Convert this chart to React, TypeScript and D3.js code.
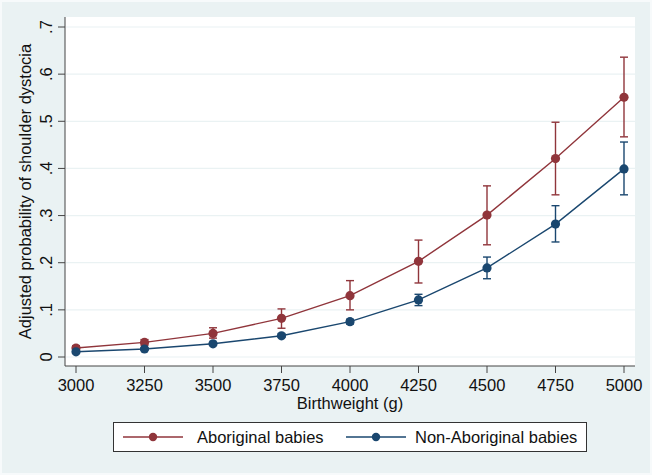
import { useEffect, useRef } from 'react'
import * as d3 from 'd3'

const weights = [3000, 3250, 3500, 3750, 4000, 4250, 4500, 4750, 5000]

const aboriginalProb = [0.019, 0.031, 0.050, 0.082, 0.130, 0.203, 0.301, 0.421, 0.551]
const aboriginalLo = [0.015, 0.025, 0.040, 0.061, 0.100, 0.157, 0.238, 0.344, 0.467]
const aboriginalHi = [0.024, 0.037, 0.062, 0.102, 0.162, 0.248, 0.363, 0.498, 0.636]

const nonAboriginalProb = [0.011, 0.017, 0.028, 0.045, 0.075, 0.121, 0.189, 0.282, 0.399]
const nonAboriginalLo = [0.010, 0.015, 0.026, 0.042, 0.070, 0.109, 0.166, 0.244, 0.344]
const nonAboriginalHi = [0.012, 0.019, 0.031, 0.049, 0.080, 0.133, 0.212, 0.321, 0.456]

const yTicks = [0, 0.1, 0.2, 0.3, 0.4, 0.5, 0.6, 0.7]
const yTickLabels = ['0', '.1', '.2', '.3', '.4', '.5', '.6', '.7']

const seriesNames = ['Aboriginal babies', 'Non-Aboriginal babies']
const seriesColors = ['#90353b', '#1a476f']

export default function App() {
  const svgRef = useRef<SVGSVGElement>(null)

  useEffect(() => {
    if (!svgRef.current) return
    document.body.style.margin = '0'

    const width = 652
    const height = 475
    const font = "'Liberation Sans', Arial, sans-serif"
    const fontSize = 16.5

    const svg = d3.select(svgRef.current)
    svg.selectAll('*').remove()
    svg.attr('width', width).attr('height', height)

    // graph region background with a thin light border
    svg.append('rect').attr('width', width).attr('height', height).attr('fill', '#f7fafb')
    svg.append('rect')
      .attr('x', 2).attr('y', 2)
      .attr('width', width - 4).attr('height', height - 4)
      .attr('fill', '#eaf2f3')

    const plotLeft = 65
    const plotRight = 635
    const plotTop = 17
    const plotBottom = 366

    svg.append('rect')
      .attr('x', plotLeft).attr('y', plotTop)
      .attr('width', plotRight - plotLeft).attr('height', plotBottom - plotTop)
      .attr('fill', '#ffffff')

    const x = d3.scaleLinear().domain([3000, 5000]).range([76, 624])
    const y = d3.scaleLinear().domain([0, 0.7]).range([357, 27])

    // horizontal gridlines
    svg.append('g')
      .selectAll('line')
      .data(yTicks)
      .enter()
      .append('line')
      .attr('x1', plotLeft + 1).attr('x2', plotRight)
      .attr('y1', d => y(d)).attr('y2', d => y(d))
      .attr('stroke', '#eaf2f3')
      .attr('stroke-width', 1.2)

    // y axis
    const yAxis = svg.append('g')
    yAxis.append('line')
      .attr('x1', plotLeft).attr('x2', plotLeft)
      .attr('y1', plotTop).attr('y2', plotBottom)
      .attr('stroke', '#444').attr('stroke-width', 1)
    yAxis.selectAll('line.tick')
      .data(yTicks)
      .enter()
      .append('line')
      .attr('class', 'tick')
      .attr('x1', plotLeft - 7).attr('x2', plotLeft)
      .attr('y1', d => y(d)).attr('y2', d => y(d))
      .attr('stroke', '#444').attr('stroke-width', 1)
    yAxis.selectAll('text')
      .data(yTicks)
      .enter()
      .append('text')
      .attr('transform', d => `translate(52,${y(d)}) rotate(-90)`)
      .attr('text-anchor', 'middle')
      .attr('font-family', font)
      .attr('font-size', fontSize)
      .attr('fill', '#111')
      .text((_, i) => yTickLabels[i])

    svg.append('text')
      .attr('transform', `translate(31,${(plotTop + plotBottom) / 2}) rotate(-90)`)
      .attr('text-anchor', 'middle')
      .attr('font-family', font)
      .attr('font-size', fontSize)
      .attr('fill', '#111')
      .text('Adjusted probability of shoulder dystocia')

    // x axis
    const xAxis = svg.append('g')
    xAxis.append('line')
      .attr('x1', plotLeft).attr('x2', plotRight)
      .attr('y1', plotBottom).attr('y2', plotBottom)
      .attr('stroke', '#444').attr('stroke-width', 1)
    xAxis.selectAll('line.tick')
      .data(weights)
      .enter()
      .append('line')
      .attr('class', 'tick')
      .attr('x1', d => x(d)).attr('x2', d => x(d))
      .attr('y1', plotBottom).attr('y2', plotBottom + 7)
      .attr('stroke', '#444').attr('stroke-width', 1)
    xAxis.selectAll('text')
      .data(weights)
      .enter()
      .append('text')
      .attr('x', d => x(d))
      .attr('y', 391)
      .attr('text-anchor', 'middle')
      .attr('font-family', font)
      .attr('font-size', fontSize)
      .attr('fill', '#111')
      .text(d => String(d))

    svg.append('text')
      .attr('x', (plotLeft + plotRight) / 2)
      .attr('y', 409)
      .attr('text-anchor', 'middle')
      .attr('font-family', font)
      .attr('font-size', fontSize)
      .attr('fill', '#111')
      .text('Birthweight (g)')

    // series: connected points with confidence intervals
    const series = [
      { prob: aboriginalProb, lo: aboriginalLo, hi: aboriginalHi },
      { prob: nonAboriginalProb, lo: nonAboriginalLo, hi: nonAboriginalHi },
    ]

    const line = d3.line<number>()
      .x((_, i) => x(weights[i]))
      .y(d => y(d))

    series.forEach((s, si) => {
      const color = seriesColors[si]
      const g = svg.append('g')

      g.append('path')
        .datum(s.prob)
        .attr('d', line)
        .attr('fill', 'none')
        .attr('stroke', color)
        .attr('stroke-width', 1.4)

      const bars = g.selectAll('g.ci')
        .data(weights)
        .enter()
        .append('g')
        .attr('class', 'ci')
      bars.append('line')
        .attr('x1', d => x(d)).attr('x2', d => x(d))
        .attr('y1', (_, i) => y(s.lo[i])).attr('y2', (_, i) => y(s.hi[i]))
        .attr('stroke', color).attr('stroke-width', 1.4)
      bars.append('line')
        .attr('x1', d => x(d) - 4).attr('x2', d => x(d) + 4)
        .attr('y1', (_, i) => y(s.lo[i])).attr('y2', (_, i) => y(s.lo[i]))
        .attr('stroke', color).attr('stroke-width', 1.4)
      bars.append('line')
        .attr('x1', d => x(d) - 4).attr('x2', d => x(d) + 4)
        .attr('y1', (_, i) => y(s.hi[i])).attr('y2', (_, i) => y(s.hi[i]))
        .attr('stroke', color).attr('stroke-width', 1.4)

      g.selectAll('circle')
        .data(s.prob)
        .enter()
        .append('circle')
        .attr('cx', (_, i) => x(weights[i]))
        .attr('cy', d => y(d))
        .attr('r', 4.6)
        .attr('fill', color)
    })

    // legend
    const legend = svg.append('g')
    legend.append('rect')
      .attr('x', 113.5).attr('y', 422.5)
      .attr('width', 473).attr('height', 29)
      .attr('fill', '#ffffff')
      .attr('stroke', '#333').attr('stroke-width', 1)

    const legendItems = [
      { x0: 123, x1: 183, tx: 197 },
      { x0: 346, x1: 406, tx: 415 },
    ]
    legendItems.forEach((item, i) => {
      legend.append('line')
        .attr('x1', item.x0).attr('x2', item.x1)
        .attr('y1', 437).attr('y2', 437)
        .attr('stroke', seriesColors[i]).attr('stroke-width', 1.4)
      legend.append('circle')
        .attr('cx', (item.x0 + item.x1) / 2).attr('cy', 437)
        .attr('r', 4.2)
        .attr('fill', seriesColors[i])
      legend.append('text')
        .attr('x', item.tx).attr('y', 443)
        .attr('font-family', font)
        .attr('font-size', fontSize)
        .attr('fill', '#111')
        .text(seriesNames[i])
    })
  }, [])

  return <svg ref={svgRef} style={{ display: 'block' }} />
}
